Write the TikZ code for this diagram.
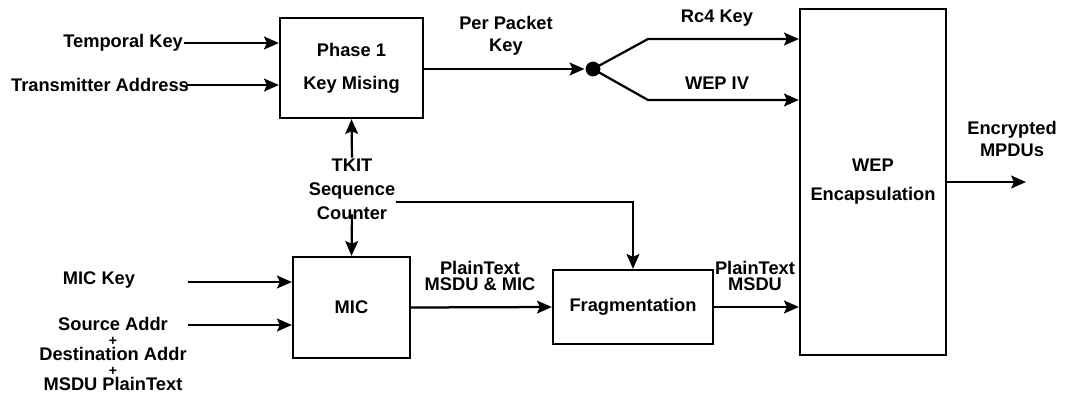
\documentclass[tikz,border=0pt]{standalone}
\usepackage{fontspec}
\setmainfont{Liberation Sans}
\usetikzlibrary{arrows.meta,positioning,calc}

\begin{document}
\begin{tikzpicture}[x=0.025cm,y=-0.025cm,line width=1.6pt,
  font=\fontsize{13}{15.5}\selectfont\bfseries,
  blk/.style={draw,rectangle,align=center,inner sep=0pt},
  lbl/.style={align=center,inner sep=0pt},
  arr/.style={-{Stealth[length=0.37cm,width=0.32cm,inset=0.07cm]}}]
\useasboundingbox (0,0) rectangle (1066,397);
\node[blk,minimum width=3.575cm,minimum height=2.5cm,font=\fontsize{13}{23.4}\selectfont\bfseries] (p1) at (351.5,68) {Phase 1\\Key Mising};
\node[blk,minimum width=3.65cm,minimum height=8.65cm,font=\fontsize{13}{20.5}\selectfont\bfseries] (wep) at (873,182) {WEP\\Encapsulation};
\node[blk,minimum width=2.925cm,minimum height=2.525cm] (mic) at (351.5,307.5) {MIC};
\node[blk,minimum width=4cm,minimum height=1.85cm] (frag) at (633,307) {Fragmentation};
\node[lbl,anchor=east] (tk) at (184,43) {Temporal Key};
\node[lbl,anchor=west] (ta) at (10,85) {Transmitter Address};
\node[lbl,font=\fontsize{13}{17}\selectfont\bfseries] (tkit) at (352,189) {TKIT\\Sequence\\Counter};
\node[lbl] (mickey) at (99,280) {MIC Key};
\node[lbl] (src) at (113,354) {Source Addr\\[-4.8pt]{\fontsize{10}{10}\selectfont +}\\[-4.8pt]Destination Addr\\[-4.8pt]{\fontsize{10}{10}\selectfont +}\\[-4.8pt]MSDU PlainText};
\node[lbl] (ppk) at (506,36) {Per Packet\\Key};
\node[lbl] (rc4) at (717,18) {Rc4 Key};
\node[lbl] (wepiv) at (717,83) {WEP IV};
\node[lbl,font=\fontsize{13}{12}\selectfont\bfseries] (ptmm) at (480,276) {PlainText\\MSDU \& MIC};
\node[lbl,font=\fontsize{13}{12}\selectfont\bfseries] (ptm) at (755,276) {PlainText\\MSDU};
\node[lbl] (enc) at (1012,139) {Encrypted\\MPDUs};
\node[circle,fill,inner sep=0pt,minimum size=0.37cm] (dot) at (593,69) {};
\coordinate (up) at (648,39);
\coordinate (dn) at (648,100);
\coordinate (mk) at (188,282);
\coordinate (sa) at (188,325);
\coordinate (out) at (1026,182);
% top row
\draw[arr] (tk.east) -- (tk.east -| p1.west);
\draw[arr] ([xshift=-0.1cm]ta.east) -- (ta.east -| p1.west);
\draw[arr] (p1.east |- dot) -- (dot.west);
\draw[arr] (dot.center) -- (up) -- (up -| wep.west);
\draw[arr] (dot.center) -- (dn) -- (dn -| wep.west);
% counter
\draw[arr] (tkit.north) -- (p1.south);
\draw[arr] ([yshift=0.15cm]tkit.south) -- (mic.north);
\draw[arr] ($(tkit.east)+(0,13)$) -| (frag.north);
% bottom row
\draw[arr] (mk) -- (mk -| mic.west);
\draw[arr] (sa) -- (sa -| mic.west);
\draw[arr] (mic.east) -- (frag.west);
\draw[arr] (frag.east) -- (frag.east -| wep.west);
\draw[arr] (wep.east |- out) -- (out);
\end{tikzpicture}
\end{document}
